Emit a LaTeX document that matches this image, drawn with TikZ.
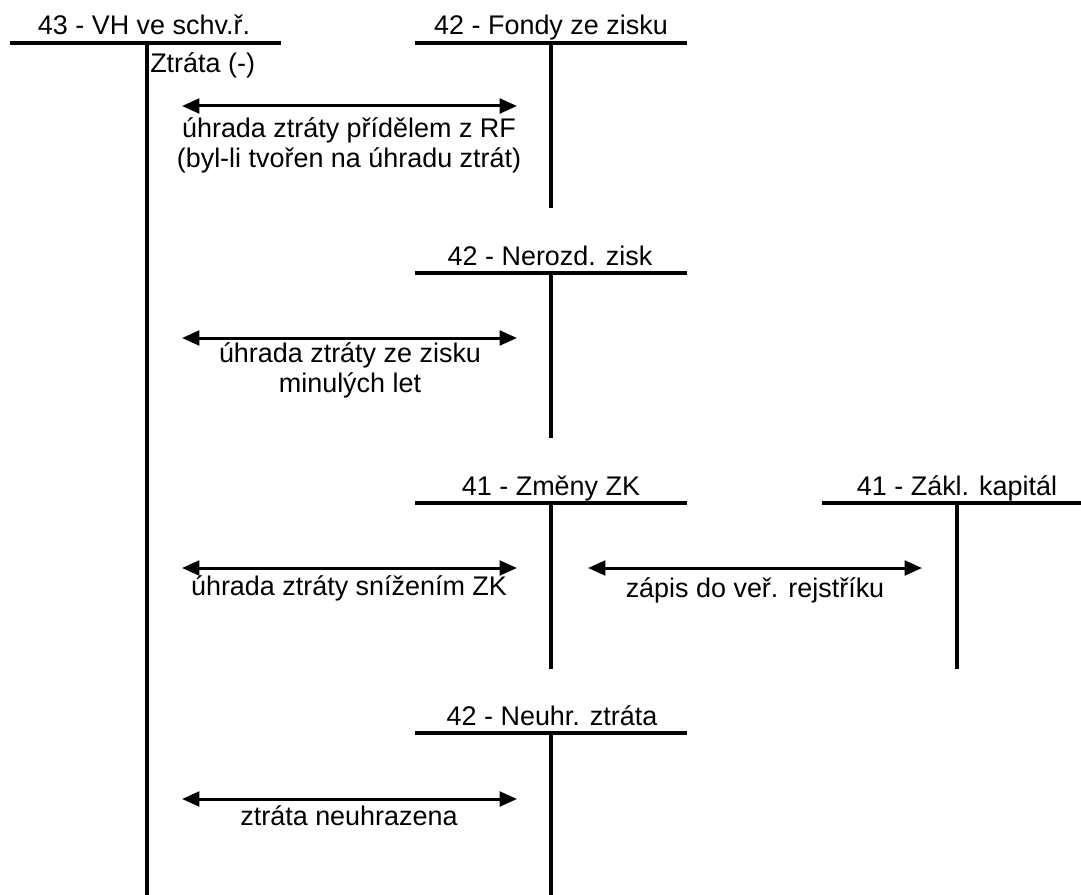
\documentclass[tikz,border=0pt]{standalone}
\usepackage{fontspec}
\setmainfont{Liberation Sans}
\usetikzlibrary{arrows.meta}
\begin{document}
\begin{tikzpicture}[x=0.75pt,y=-0.75pt,
  rule/.style={line width=2.4pt},
  txt/.style={inner sep=0pt, font=\fontsize{20.2}{22.5}\selectfont},
  title/.style={txt, anchor=base},
  lbl/.style={txt, anchor=base, align=center},
  flow/.style={line width=2.25pt,
    {Triangle[length=13pt,width=11pt]}-{Triangle[length=13pt,width=11pt]}}]
\useasboundingbox (0,0) rectangle (1081,895);

% T-account 43 - VH ve schv. ř.
\node[title] (t1) at (144,35) {43 - VH ve schv.ř.};
\draw[rule] (10,43) -- (281,43);
\draw[rule] (147,43) -- (147,895);
\node[txt, anchor=base west] (z1) at (150,73) {Ztráta (-)};

% T-account 42 - Fondy ze zisku
\node[title] (t2) at (551,35) {42 - Fondy ze zisku};
\draw[rule] (415,43) -- (687,43);
\draw[rule] (551,43) -- (551,208);

% T-account 42 - Nerozd. zisk
\node[title] (t3) at (550,265) {42 - Nerozd. zisk};
\draw[rule] (415,273) -- (687,273);
\draw[rule] (551,273) -- (551,438);

% T-account 41 - Změny ZK
\node[title] (t4) at (551,495) {41 - Změny ZK};
\draw[rule] (415,503) -- (687,503);
\draw[rule] (551,503) -- (551,669);

% T-account 41 - Zákl. kapitál
\node[title] (t5) at (957,495) {41 - Zákl. kapitál};
\draw[rule] (822,503) -- (1081,503);
\draw[rule] (957,503) -- (957,669);

% T-account 42 - Neuhr. ztráta
\node[title] (t6) at (552,725) {42 - Neuhr. ztráta};
\draw[rule] (415,733) -- (687,733);
\draw[rule] (551,733) -- (551,895);

% arrow end points
\coordinate (a1l) at (182,106); \coordinate (a1r) at (517,106);
\coordinate (a2l) at (182,338); \coordinate (a2r) at (517,338);
\coordinate (a3l) at (182,568); \coordinate (a3r) at (517,568);
\coordinate (a4l) at (588,568); \coordinate (a4r) at (922,568);
\coordinate (a5l) at (182,799); \coordinate (a5r) at (517,799);

% transfers between accounts (two-line labels sit on their last baseline)
\draw[flow] (a1l) -- (a1r);
\node[lbl] (l1) at (349,167) {úhrada ztráty přídělem z RF\\(byl-li tvořen na úhradu ztrát)};
\draw[flow] (a2l) -- (a2r);
\node[lbl] (l2) at (350,392) {úhrada ztráty ze zisku\\minulých let};
\draw[flow] (a3l) -- (a3r);
\node[lbl] (l3) at (349,595) {úhrada ztráty snížením ZK};
\draw[flow] (a4l) -- (a4r);
\node[lbl] (l4) at (755,597) {zápis do veř. rejstříku};
\draw[flow] (a5l) -- (a5r);
\node[lbl] (l5) at (349,825) {ztráta neuhrazena};
\end{tikzpicture}
\end{document}
